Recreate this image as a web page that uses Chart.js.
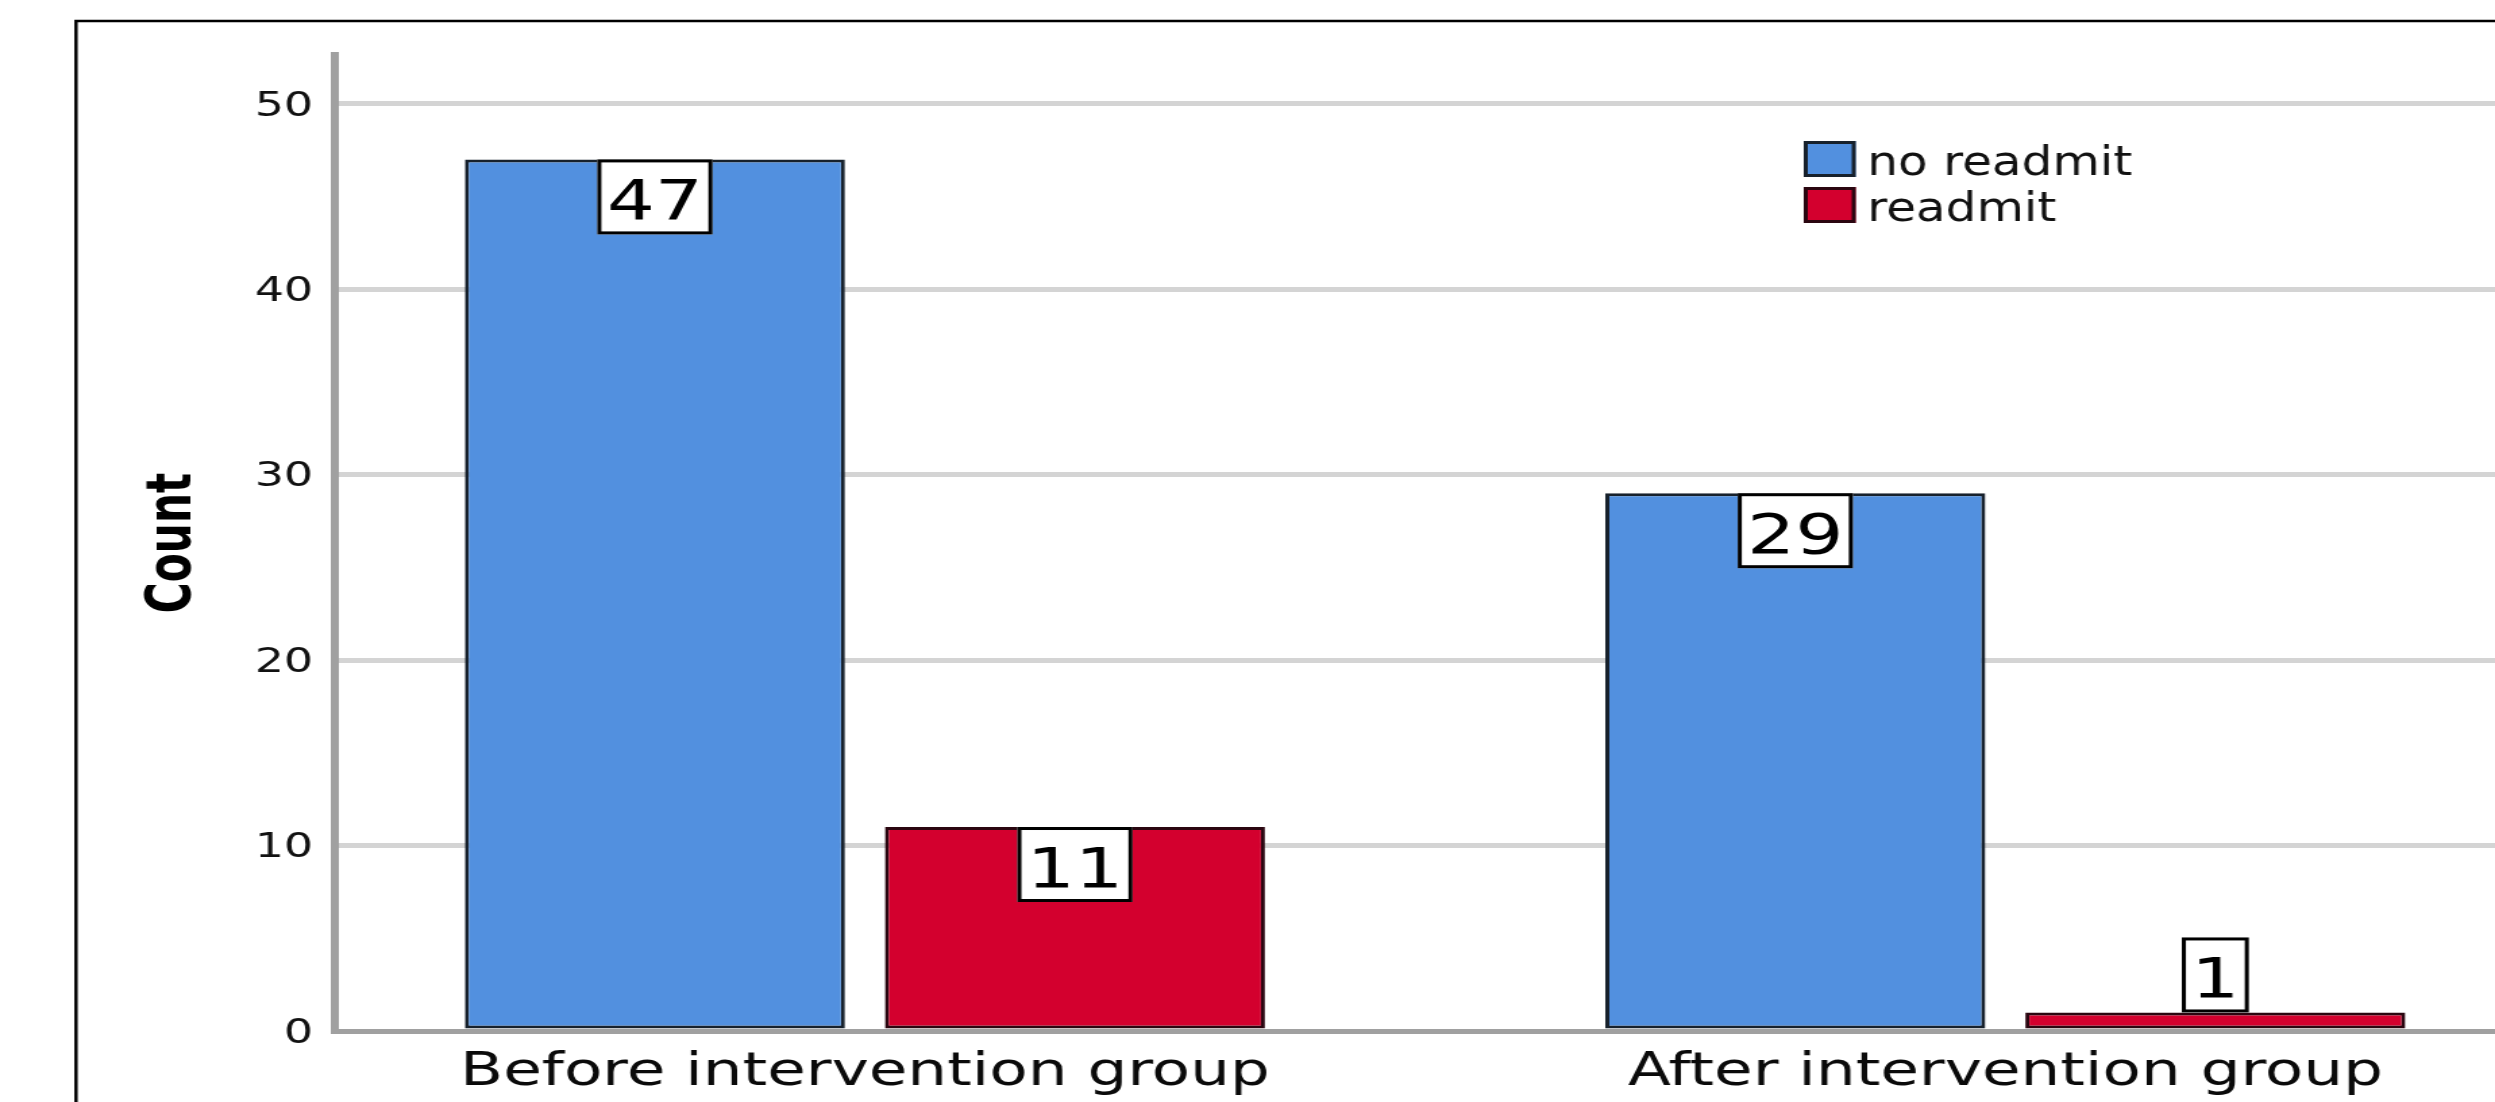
<!DOCTYPE html>
<html>
<head>
<meta charset="utf-8">
<script src="https://cdn.jsdelivr.net/npm/chart.js@4.4.1/dist/chart.umd.min.js"></script>
<style>
  html, body { margin: 0; padding: 0; background: #fff; overflow: hidden; width: 2495px; height: 1102px; }
  /* the chart is laid out narrow and widened horizontally */
  #wrap { width: 1848px; height: 1102px; transform: scaleX(1.35011); transform-origin: 0 0; }
  canvas { display: block; }
</style>
</head>
<body>
<div id="wrap"><canvas id="chart" width="1848" height="1102"></canvas></div>
<script>
// Readmission counts by group
const categories = ['Before intervention group', 'After intervention group'];
const seriesNames = ['no readmit', 'readmit'];
const noReadmit = [47, 29];
const readmit = [11, 1];
const yTicks = [0, 10, 20, 30, 40, 50];

const BLUE = '#5290DF';
const RED = '#D3002E';
const BLUE_EDGE = '#17212C';
const RED_EDGE = '#2A0610';

// outer frame around the chart
const framePlugin = {
  id: 'frame',
  beforeDraw(chart) {
    const ctx = chart.ctx;
    ctx.save();
    ctx.strokeStyle = '#000';
    ctx.lineWidth = 2.5;
    ctx.strokeRect(56.3, 21, 3000, 3000);
    ctx.restore();
  }
};

// white value boxes at the top of each bar
const valueBoxes = {
  id: 'valueBoxes',
  afterDatasetsDraw(chart) {
    const ctx = chart.ctx;
    ctx.save();
    ctx.font = '56px "DejaVu Sans"';
    chart.data.datasets.forEach((ds, di) => {
      chart.getDatasetMeta(di).data.forEach((bar, i) => {
        const text = String(ds.data[i].y);
        const w = ctx.measureText(text).width + 14;
        const h = 75;
        const top = (bar.base - bar.y) >= h ? bar.y : bar.y - h;
        const left = bar.x - w / 2;
        ctx.fillStyle = '#fff';
        ctx.fillRect(left, top, w, h);
        ctx.lineWidth = 3;
        ctx.strokeStyle = '#000';
        ctx.strokeRect(left + 1.5, top + 1.5, w - 3, h - 3);
        ctx.fillStyle = '#000';
        ctx.textAlign = 'center';
        ctx.textBaseline = 'alphabetic';
        ctx.fillText(text, bar.x, top + 60);
      });
    });
    ctx.restore();
  }
};

// legend drawn inside the plot, upper right
const boxLegend = {
  id: 'boxLegend',
  afterDraw(chart) {
    const ctx = chart.ctx;
    const items = chart.data.datasets.map(ds => ({ text: ds.label, fill: ds.backgroundColor, edge: ds.borderColor }));
    const tops = [141, 187];
    ctx.save();
    ctx.font = '40px "DejaVu Sans Condensed", "DejaVu Sans"';
    ctx.textAlign = 'left';
    ctx.textBaseline = 'alphabetic';
    items.forEach((it, k) => {
      const y = tops[k];
      ctx.fillStyle = it.fill;
      ctx.fillRect(1336, y, 38.5, 36);
      ctx.lineWidth = 3;
      ctx.strokeStyle = it.edge;
      ctx.strokeRect(1337.5, y + 1.5, 35.5, 33);
      ctx.fillStyle = '#111';
      ctx.fillText(it.text, 1383, y + 34);
    });
    ctx.restore();
  }
};

const makePoints = arr => arr.map((v, i) => ({ x: i, y: v }));

new Chart(document.getElementById('chart'), {
  type: 'bar',
  data: {
    datasets: [
      {
        label: seriesNames[0],
        data: makePoints(noReadmit),
        backgroundColor: BLUE,
        borderColor: BLUE_EDGE,
        borderWidth: 3,
        borderSkipped: false,
        categoryPercentage: 0.7366,
        barPercentage: 0.9048
      },
      {
        label: seriesNames[1],
        data: makePoints(readmit),
        backgroundColor: RED,
        borderColor: RED_EDGE,
        borderWidth: 3,
        borderSkipped: false,
        categoryPercentage: 0.7366,
        barPercentage: 0.9048
      }
    ]
  },
  options: {
    responsive: false,
    animation: false,
    devicePixelRatio: 1,
    layout: { padding: { left: 0, right: 0, top: 55, bottom: 0 } },
    plugins: {
      legend: { display: false },
      tooltip: { enabled: false },
      title: { display: false }
    },
    scales: {
      x: {
        type: 'linear',
        offset: false,
        bounds: 'data',
        min: -0.4648,
        max: 1.4294,
        afterFit: s => { s.height = 71; },
        afterBuildTicks: s => { s.ticks = categories.map((_, i) => ({ value: i })); },
        ticks: {
          callback: v => (categories[v] !== undefined ? categories[v] : ''),
          font: { family: 'DejaVu Sans', size: 46.5 },
          color: '#0a0a0a',
          padding: 14,
          maxRotation: 0,
          minRotation: 0,
          autoSkip: false
        },
        grid: { display: true, offset: false, drawOnChartArea: false, drawTicks: false, color: 'rgba(0,0,0,0)' },
        border: { display: true, color: '#A0A0A0', width: 5 }
      },
      y: {
        min: 0,
        max: 52.63,
        afterFit: s => { s.width = 248; },
        afterBuildTicks: s => { s.ticks = yTicks.map(v => ({ value: v })); },
        ticks: {
          font: { family: 'DejaVu Sans', size: 34 },
          color: '#111',
          padding: 16,
          labelOffset: 3
        },
        grid: {
          color: c => (c.tick && c.tick.value === 0 ? 'rgba(0,0,0,0)' : '#D4D4D4'),
          lineWidth: 5,
          drawTicks: false
        },
        border: { display: true, color: '#A0A0A0', width: 6 },
        title: {
          display: true,
          text: 'Count',
          font: { family: '"DejaVu Sans Condensed", "DejaVu Sans"', size: 47, weight: 'bold' },
          color: '#000',
          padding: { top: 101, bottom: 0 }
        }
      }
    }
  },
  plugins: [framePlugin, valueBoxes, boxLegend]
});
</script>
</body>
</html>
